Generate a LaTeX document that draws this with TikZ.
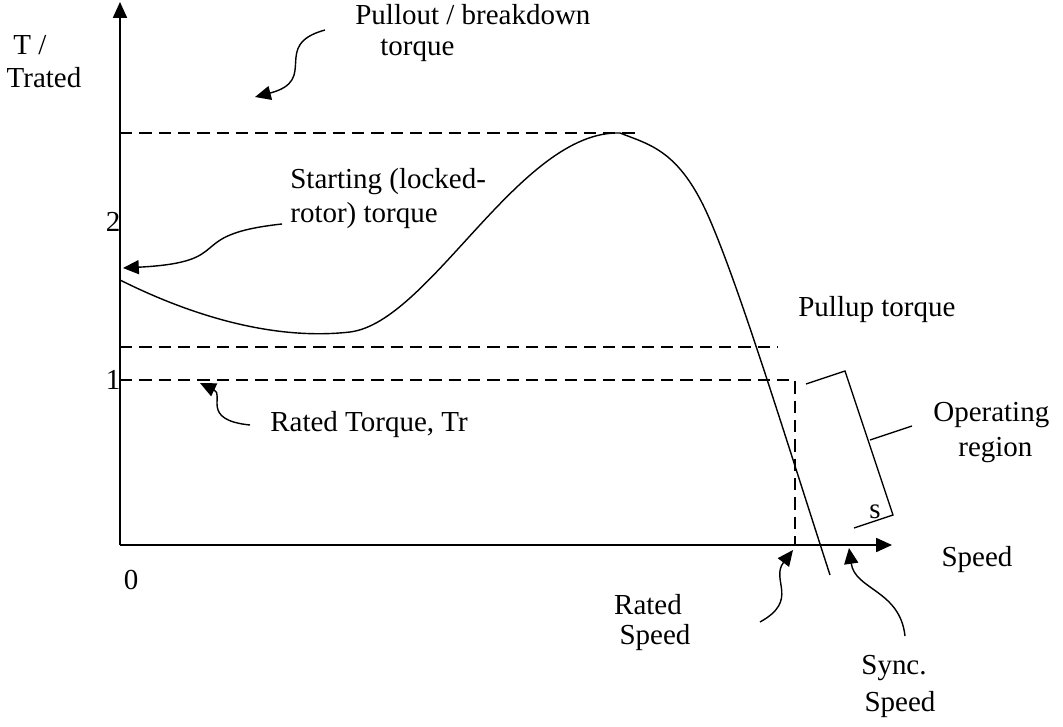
\documentclass[tikz,border=0pt]{standalone}
\usepackage{fontspec}
\setmainfont{Liberation Serif}
\usetikzlibrary{arrows.meta}
\tikzset{
  lbl/.style={inner sep=0pt,font=\fontsize{16.5}{19}\selectfont},
  dashline/.style={thick,dash pattern=on 7pt off 4pt},
  curly/.style={thick,-{Triangle[length=9pt,width=8pt]}},
}
\begin{document}
\begin{tikzpicture}[x=0.02cm,y=-0.02cm]
	\useasboundingbox (0,0) rectangle (1063,727);
	% axes
	\coordinate (o) at (120,545);
	\coordinate (ytop) at (120,2);
	\coordinate (xend) at (892,545);
	\draw[curly] (o) -- (ytop);
	\draw[curly] (o) -- (xend);
	\node[lbl] (tlab) at (30,45) {T /};
	\node[lbl] (trated) at (44,78) {Trated};
	\node[lbl] (two) at (113,222) {2};
	\node[lbl] (one) at (113,380) {1};
	\node[lbl] (zero) at (131,580) {0};
	\node[lbl] (speed) at (977,560) {Speed};
	% dashed levels
	\coordinate (p1) at (120,133); \coordinate (p2) at (640,133);
	\coordinate (u1) at (120,347); \coordinate (u2) at (778,347);
	\coordinate (r1) at (120,380); \coordinate (r2) at (795,380);
	\coordinate (r3) at (795,545);
	\draw[dashline] (p1) -- (p2);
	\draw[dashline] (u1) -- (u2);
	\draw[dashline] (r1) -- (r2) -- (r3);
	% torque curve
	\draw[thick] (120,280) .. controls (200,320) and (280,340) .. (350,332)
		.. controls (430,322) and (520,130) .. (620,133)
		.. controls (650,145) and (680,150) .. (710,220)
		.. controls (740,290) and (780,420) .. (830,575);
	% labels
	\node[lbl,anchor=west] (pull1) at (355,15) {Pullout / breakdown};
	\node[lbl,anchor=west] (pull2) at (380,50) {torque};
	\draw[curly] (325,30) .. controls (270,45) and (320,80) .. (255,97);
	\node[lbl,anchor=west] (start1) at (290,182) {Starting (locked-};
	\node[lbl,anchor=west] (start2) at (290,216) {rotor) torque};
	\draw[curly] (282,224) .. controls (180,235) and (240,262) .. (123,268);
	\node[lbl,anchor=west] (pullup) at (798,310) {Pullup torque};
	\node[lbl,anchor=west] (rated) at (270,425) {Rated Torque, Tr};
	\draw[curly] (250,425) .. controls (200,420) and (225,395) .. (200,383);
	\node[lbl,anchor=west] (op1) at (933,415) {Operating};
	\node[lbl,anchor=west] (op2) at (958,450) {region};
	\draw[thick] (806,384) -- (845,371) -- (893,515) -- (854,528);
	\draw[thick] (870,440) -- (912,426);
	\node[lbl] (s) at (875,512) {s};
	\node[lbl] (rs1) at (648,605) {Rated};
	\node[lbl] (rs2) at (655,638) {Speed};
	\draw[curly] (760,622) .. controls (800,600) and (770,580) .. (793,550);
	\node[lbl] (ss1) at (894,668) {Sync.};
	\node[lbl] (ss2) at (900,705) {Speed};
	\draw[curly] (905,636) .. controls (900,590) and (855,590) .. (849,548);
\end{tikzpicture}
\end{document}
